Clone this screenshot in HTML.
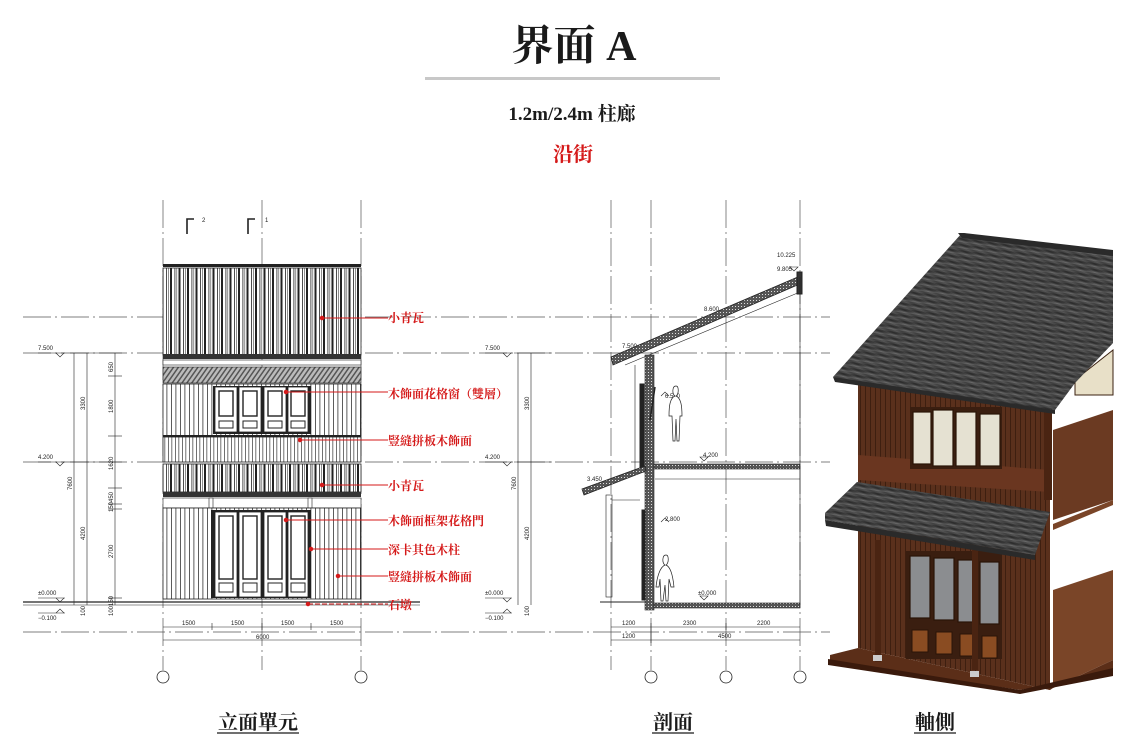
<!DOCTYPE html>
<html><head><meta charset="utf-8"><style>
html,body{margin:0;padding:0;background:#fff;}
svg{display:block;}
.t{font-family:"Liberation Serif","Noto Serif CJK SC",serif;}
.s{font-family:"Liberation Sans",sans-serif;font-size:6px;fill:#222;}
.r{font-family:"Liberation Serif","Noto Serif CJK SC",serif;font-size:12px;fill:#d51a1a;font-weight:bold;}
</style></head><body>
<svg width="1148" height="749" viewBox="0 0 1148 749" xmlns="http://www.w3.org/2000/svg">
<defs>
<pattern id="tile" width="8.5" height="10" patternUnits="userSpaceOnUse"><rect width="8.5" height="10" fill="#fff"/><rect x="0" width="2" height="10" fill="#222"/><rect x="4.5" width="0.8" height="10" fill="#222"/><rect x="6.5" width="0.6" height="10" fill="#444"/></pattern>
<pattern id="thin" width="4.5" height="10" patternUnits="userSpaceOnUse"><rect width="4.5" height="10" fill="#fff"/><rect width="0.8" height="10" fill="#333"/></pattern>
<pattern id="thin2" width="3.5" height="10" patternUnits="userSpaceOnUse"><rect width="3.5" height="10" fill="#fff"/><rect width="0.7" height="10" fill="#333"/></pattern>
<pattern id="hatch" width="4" height="4" patternUnits="userSpaceOnUse" patternTransform="rotate(35)"><rect width="4" height="4" fill="#bbb"/><rect width="1.5" height="4" fill="#555"/></pattern>
<pattern id="rtile" width="6" height="6" patternUnits="userSpaceOnUse" patternTransform="rotate(8)"><rect width="6" height="6" fill="#4a4a4a"/><rect y="0" width="6" height="2" fill="#2e2e2e"/><rect y="3" width="6" height="1" fill="#6a6a6a"/></pattern>
<pattern id="rtile2" width="5" height="6" patternUnits="userSpaceOnUse" patternTransform="rotate(-62)"><rect width="5" height="6" fill="#4a4a4a"/><rect width="1.6" height="6" fill="#2c2c2c"/><rect x="3" width="0.8" height="6" fill="#6e6e6e"/></pattern>
<pattern id="wood" width="5" height="10" patternUnits="userSpaceOnUse"><rect width="5" height="10" fill="#5a301c"/><rect width="1" height="10" fill="#3e1f10"/></pattern>
<pattern id="slab" width="3" height="3" patternUnits="userSpaceOnUse"><rect width="3" height="3" fill="#555"/><rect width="1" height="1" fill="#ddd"/></pattern>
</defs>

<!-- Title -->
<text x="574" y="60" text-anchor="middle" class="t" font-size="42" font-weight="bold" fill="#1a1a1a">界面 A</text>
<rect x="425" y="77" width="295" height="3" fill="#c8c8c8"/>
<text x="572" y="120" text-anchor="middle" class="t" font-size="19" font-weight="bold" fill="#1a1a1a">1.2m/2.4m 柱廊</text>
<text x="573" y="161" text-anchor="middle" class="t" font-size="20" font-weight="bold" fill="#d51a1a">沿街</text>

<!-- grid / dash-dot lines -->
<g stroke="#555" stroke-width="0.7" stroke-dasharray="28,4,2,4" fill="none">
<line x1="23" y1="317" x2="830" y2="317"/>
<line x1="23" y1="353" x2="830" y2="353"/>
<line x1="23" y1="462" x2="830" y2="462"/>
<line x1="23" y1="632" x2="830" y2="632"/>
<line x1="163" y1="200" x2="163" y2="670"/>
<line x1="262" y1="200" x2="262" y2="670"/>
<line x1="361" y1="200" x2="361" y2="670"/>
<line x1="611" y1="200" x2="611" y2="670"/>
<line x1="651" y1="200" x2="651" y2="670"/>
<line x1="726" y1="200" x2="726" y2="670"/>
<line x1="800" y1="200" x2="800" y2="670"/>
</g>
<g stroke="#222" stroke-width="0.8" fill="none">
<circle cx="163" cy="677" r="6"/><circle cx="361" cy="677" r="6"/>
<circle cx="651" cy="677" r="6"/><circle cx="726" cy="677" r="6"/><circle cx="800" cy="677" r="6"/>
<path d="M187,234 V219 H194 M248,234 V219 H255" stroke-width="1.6"/>
</g>
<text x="202" y="222" class="s" font-size="8">2</text><text x="265" y="222" class="s" font-size="8">1</text>

<!-- ELEVATION -->
<rect x="163" y="264" width="198" height="3" fill="#222"/>
<rect x="163" y="268" width="198" height="87" fill="url(#tile)" stroke="#222" stroke-width="0.8"/>
<rect x="163" y="354" width="198" height="5" fill="#333"/>
<rect x="163" y="360" width="198" height="5" fill="#fff" stroke="#222" stroke-width="0.6"/>
<rect x="163" y="367" width="198" height="16" fill="url(#hatch)" stroke="#222" stroke-width="0.6"/>
<rect x="163" y="384" width="198" height="52" fill="url(#thin)" stroke="#222" stroke-width="0.8"/>
<rect x="163" y="435" width="198" height="2" fill="#222"/>
<rect x="163" y="437" width="198" height="25" fill="url(#thin2)" stroke="#222" stroke-width="0.8"/>
<rect x="163" y="464" width="198" height="28" fill="url(#tile)" stroke="#222" stroke-width="0.8"/>
<rect x="163" y="492" width="198" height="5" fill="#333"/>
<rect x="163" y="498" width="198" height="10" fill="#fff" stroke="#222" stroke-width="0.6"/>
<rect x="209" y="498" width="4" height="10" fill="#fff" stroke="#222" stroke-width="0.6"/>
<rect x="308" y="498" width="4" height="10" fill="#fff" stroke="#222" stroke-width="0.6"/>
<rect x="163" y="508" width="198" height="91" fill="url(#thin)" stroke="#222" stroke-width="0.8"/>
<g fill="#fff" stroke="#222">
<rect x="213" y="386" width="98" height="48" fill="#222" stroke="none"/>
<rect x="215" y="387" width="22" height="45" stroke-width="0.8"/><rect x="239" y="387" width="22" height="45" stroke-width="0.8"/>
<rect x="264" y="387" width="22" height="45" stroke-width="0.8"/><rect x="288" y="387" width="20" height="45" stroke-width="0.8"/>
<rect x="219" y="391" width="14" height="25" stroke-width="1.4"/><rect x="243" y="391" width="14" height="25" stroke-width="1.4"/>
<rect x="268" y="391" width="14" height="25" stroke-width="1.4"/><rect x="291" y="391" width="14" height="25" stroke-width="1.4"/>
<rect x="219" y="421" width="14" height="7" stroke-width="1"/><rect x="243" y="421" width="14" height="7" stroke-width="1"/>
<rect x="268" y="421" width="14" height="7" stroke-width="1"/><rect x="291" y="421" width="14" height="7" stroke-width="1"/>
<rect x="211" y="510" width="100" height="88" fill="#222" stroke="none"/>
<rect x="215" y="512" width="22" height="85" stroke-width="0.8"/><rect x="239" y="512" width="22" height="85" stroke-width="0.8"/>
<rect x="264" y="512" width="22" height="85" stroke-width="0.8"/><rect x="288" y="512" width="20" height="85" stroke-width="0.8"/>
<rect x="219" y="516" width="14" height="63" stroke-width="1.4"/><rect x="243" y="516" width="14" height="63" stroke-width="1.4"/>
<rect x="268" y="516" width="14" height="63" stroke-width="1.4"/><rect x="291" y="516" width="14" height="63" stroke-width="1.4"/>
<rect x="219" y="583" width="14" height="9" stroke-width="1"/><rect x="243" y="583" width="14" height="9" stroke-width="1"/>
<rect x="268" y="583" width="14" height="9" stroke-width="1"/><rect x="291" y="583" width="14" height="9" stroke-width="1"/>
</g>
<line x1="23" y1="602" x2="420" y2="602" stroke="#222" stroke-width="1.2"/>
<line x1="23" y1="605" x2="420" y2="605" stroke="#222" stroke-width="0.6"/>

<!-- red leaders -->
<g stroke="#d51a1a" stroke-width="0.9" fill="#d51a1a">
<line x1="322" y1="318" x2="388" y2="318"/><circle cx="322" cy="318" r="1.8"/>
<line x1="286" y1="392" x2="388" y2="392"/><circle cx="286" cy="392" r="1.8"/>
<line x1="300" y1="440" x2="388" y2="440"/><circle cx="300" cy="440" r="1.8"/>
<line x1="322" y1="485" x2="388" y2="485"/><circle cx="322" cy="485" r="1.8"/>
<line x1="286" y1="520" x2="388" y2="520"/><circle cx="286" cy="520" r="1.8"/>
<line x1="311" y1="549" x2="388" y2="549"/><circle cx="311" cy="549" r="1.8"/>
<line x1="338" y1="576" x2="388" y2="576"/><circle cx="338" cy="576" r="1.8"/>
<line x1="308" y1="604" x2="388" y2="604" stroke-dasharray="5,2"/><circle cx="308" cy="604" r="1.8"/>
</g>
<text x="388" y="322" class="r">小青瓦</text>
<text x="388" y="398" class="r">木飾面花格窗（雙層）</text>
<text x="388" y="445" class="r">豎縫拼板木飾面</text>
<text x="388" y="490" class="r">小青瓦</text>
<text x="388" y="525" class="r">木飾面框架花格門</text>
<text x="388" y="554" class="r">深卡其色木柱</text>
<text x="388" y="581" class="r">豎縫拼板木飾面</text>
<text x="388" y="609" class="r">石墩</text>

<!-- elevation levels & dims -->
<g stroke="#222" stroke-width="0.6" fill="none">
<line x1="38" y1="353" x2="65" y2="353"/><path d="M56,353 l4,4 l4,-4"/>
<line x1="38" y1="462" x2="65" y2="462"/><path d="M56,462 l4,4 l4,-4"/>
<line x1="38" y1="598" x2="65" y2="598"/><path d="M56,598 l4,4 l4,-4"/>
<line x1="38" y1="613" x2="65" y2="613"/><path d="M56,613 l4,-4 l4,4"/>
<line x1="74" y1="353" x2="74" y2="605"/><line x1="87" y1="353" x2="87" y2="605"/><line x1="115" y1="353" x2="115" y2="605"/>
<line x1="70" y1="353" x2="122" y2="353"/><line x1="70" y1="462" x2="122" y2="462"/>
<line x1="108" y1="376" x2="122" y2="376"/><line x1="108" y1="436" x2="122" y2="436"/><line x1="108" y1="488" x2="122" y2="488"/>
<line x1="108" y1="504" x2="122" y2="504"/><line x1="108" y1="509" x2="122" y2="509"/><line x1="108" y1="598" x2="122" y2="598"/>
<line x1="163" y1="627" x2="361" y2="627"/><line x1="163" y1="640" x2="361" y2="640"/>
<line x1="212" y1="623" x2="212" y2="630"/><line x1="262" y1="623" x2="262" y2="630"/><line x1="311" y1="623" x2="311" y2="630"/>
<line x1="485" y1="353" x2="512" y2="353"/><path d="M503,353 l4,4 l4,-4"/>
<line x1="485" y1="462" x2="512" y2="462"/><path d="M503,462 l4,4 l4,-4"/>
<line x1="485" y1="598" x2="512" y2="598"/><path d="M503,598 l4,4 l4,-4"/>
<line x1="485" y1="613" x2="512" y2="613"/><path d="M503,613 l4,-4 l4,4"/>
<line x1="518" y1="353" x2="518" y2="605"/><line x1="531" y1="353" x2="531" y2="605"/>
<line x1="514" y1="353" x2="552" y2="353"/><line x1="514" y1="462" x2="552" y2="462"/>
<line x1="611" y1="627" x2="800" y2="627"/><line x1="611" y1="640" x2="800" y2="640"/>
<line x1="651" y1="623" x2="651" y2="643"/><line x1="726" y1="623" x2="726" y2="630"/>
</g>
<g class="s">
<text x="38" y="350">7.500</text><text x="38" y="459">4.200</text><text x="38" y="595">±0.000</text><text x="38" y="620">−0.100</text>
<text x="485" y="350">7.500</text><text x="485" y="459">4.200</text><text x="485" y="595">±0.000</text><text x="485" y="620">−0.100</text>
<text x="182" y="625">1500</text><text x="231" y="625">1500</text><text x="281" y="625">1500</text><text x="330" y="625">1500</text>
<text x="256" y="639">6000</text>
<text x="622" y="625">1200</text><text x="683" y="625">2300</text><text x="757" y="625">2200</text>
<text x="622" y="638">1200</text><text x="718" y="638">4500</text>
<text x="777" y="257">10.225</text><text x="777" y="271">9.805</text><text x="704" y="311">8.600</text>
<text x="622" y="348">7.500</text><text x="665" y="398">6.550</text><text x="703" y="457">4.200</text>
<text x="587" y="481">3.450</text><text x="665" y="521">2.800</text><text x="698" y="595">±0.000</text>
</g>
<g class="s" font-size="5.5">
<text transform="translate(72,490) rotate(-90)">7600</text><text transform="translate(85,410) rotate(-90)">3300</text>
<text transform="translate(85,540) rotate(-90)">4200</text><text transform="translate(113,372) rotate(-90)">650</text>
<text transform="translate(113,413) rotate(-90)">1800</text><text transform="translate(113,470) rotate(-90)">1620</text>
<text transform="translate(113,512) rotate(-90)">150450</text><text transform="translate(113,558) rotate(-90)">2700</text>
<text transform="translate(85,616) rotate(-90)">100</text><text transform="translate(113,616) rotate(-90)">100150</text>
<text transform="translate(516,490) rotate(-90)">7600</text><text transform="translate(529,410) rotate(-90)">3300</text>
<text transform="translate(529,540) rotate(-90)">4200</text><text transform="translate(529,616) rotate(-90)">100</text>
</g>

<!-- SECTION -->
<g stroke="#222" fill="none">
<path d="M611,357 L800,276 L802,283 L613,365 Z" fill="url(#slab)" stroke-width="0.8"/>
<path d="M625,365 L800,292" stroke-width="0.6"/>
<rect x="797" y="272" width="5" height="22" fill="#333"/>
<rect x="645" y="355" width="9" height="255" fill="url(#slab)" stroke-width="0.6"/>
<rect x="640" y="384" width="4" height="88" fill="#222"/>
<line x1="635" y1="365" x2="635" y2="470" stroke-width="0.6"/>
<path d="M655,387 L650,420" stroke-width="1.5"/>
<rect x="654" y="464" width="146" height="5" fill="url(#slab)" stroke-width="0.6"/>
<line x1="655" y1="479" x2="800" y2="479" stroke-width="0.6"/>
<path d="M582,489 L645,466 L646,471 L584,495 Z" fill="url(#slab)" stroke-width="0.8"/>
<rect x="606" y="495" width="6" height="102" stroke-width="0.6"/>
<line x1="612" y1="500" x2="640" y2="500" stroke-width="0.6"/>
<rect x="642" y="510" width="3" height="90" fill="#222"/>
<rect x="654" y="603" width="146" height="5" fill="url(#slab)" stroke-width="0.6"/>
<line x1="600" y1="602" x2="645" y2="602" stroke-width="1"/>
<line x1="800" y1="277" x2="800" y2="605" stroke-width="0.6"/>
<path d="M676,386 c-4,0 -4,8 -1,10 c-5,2 -6,10 -6,20 l3,0 l1,25 l2,0 l1,-22 l1,22 l2,0 l1,-25 l2,0 c0,-10 -1,-18 -6,-20 c3,-2 3,-10 0,-10 z" stroke-width="0.7" fill="#fff"/>
<path d="M666,555 c-4,0 -4,8 -1,10 c-5,2 -8,12 -9,22 l3,0 l1,-8 l1,22 l2,0 l2,-16 l1,16 l2,0 l1,-22 l2,8 l3,0 c-1,-10 -3,-20 -8,-22 c3,-2 3,-10 0,-10 z" stroke-width="0.7" fill="#fff"/>
<path d="M700,457 l4,4 l4,-4 z M700,596 l4,4 l4,-4 z M661,396 l4,-4 l4,4 M661,522 l4,-4 l4,4 M790,267 l4,4 l4,-4 z" stroke-width="0.6"/>
</g>

<!-- AXONOMETRIC -->
<polygon points="1050,425 1113,400 1113,660 1050,690" fill="#fff"/>
<polygon points="1053,430 1113,410 1113,500 1053,520" fill="#6b3a22"/>
<polygon points="1053,524 1113,500 1113,505 1053,530" fill="#7a4528"/>
<polygon points="1053,590 1113,570 1113,660 1053,688" fill="#7a4528"/>
<polygon points="1075,380 1113,350 1113,395 1075,395" fill="#e8e0c8" stroke="#3a2010" stroke-width="1"/>
<polygon points="858,383 1050,405 1050,690 858,648" fill="url(#wood)"/>
<polygon points="858,455 1050,470 1050,492 858,480" fill="#6a3620"/>
<polygon points="830,655 858,648 1050,690 1053,688 1113,660 1113,672 1020,690 830,662" fill="#5b2e18"/>
<polygon points="828,659 1020,690 1113,668 1113,676 1020,694 828,665" fill="#3a1a0c"/>
<rect x="910" y="407" width="92" height="62" fill="#3a1e10"/>
<g fill="#e5e1d2" stroke="#2a1408" stroke-width="1.2">
<rect x="913" y="412" width="18" height="52"/><rect x="933" y="410" width="20" height="56"/><rect x="956" y="412" width="20" height="54"/><rect x="980" y="414" width="20" height="52"/>
</g>
<rect x="906" y="551" width="96" height="108" fill="#3a1e10"/>
<g fill="#8b8d90" stroke="#2a1408" stroke-width="1.2">
<rect x="910" y="556" width="20" height="62"/><rect x="934" y="558" width="20" height="62"/><rect x="958" y="560" width="18" height="62"/><rect x="980" y="562" width="19" height="62"/>
</g>
<g fill="#8a4c22" stroke="#2a1408" stroke-width="1">
<rect x="912" y="630" width="16" height="22"/><rect x="936" y="632" width="16" height="22"/><rect x="960" y="634" width="14" height="22"/><rect x="982" y="636" width="15" height="22"/>
</g>
<rect x="875" y="540" width="6" height="122" fill="#4a2412"/><rect x="972" y="550" width="6" height="120" fill="#4a2412"/>
<rect x="873" y="655" width="9" height="6" fill="#ccc"/><rect x="970" y="671" width="9" height="6" fill="#ccc"/>
<rect x="1044" y="410" width="8" height="90" fill="#4a2412"/>
<polygon points="833,377 962,233 1113,252 1113,343 1075,383 1055,410 930,394 860,384" fill="url(#rtile)"/>
<polygon points="833,377 962,233 1113,252 1113,343 1075,383 1055,410 930,394 860,384" fill="url(#rtile2)" opacity="0.35"/>
<polygon points="958,233 964,233 1113,250 1113,256 962,238" fill="#2a2a2a"/>
<polygon points="833,377 1055,410 1055,414 835,382" fill="#2a2a2a"/>
<polygon points="857,482 1050,512 1035,555 825,520 825,513" fill="url(#rtile)"/>
<polygon points="857,482 1050,512 1035,555 825,520 825,513" fill="url(#rtile2)" opacity="0.3"/>
<polygon points="825,520 1035,555 1035,560 826,526" fill="#2a2a2a"/>

<!-- bottom labels -->
<g class="t" font-size="20" font-weight="bold" fill="#1a1a1a" text-anchor="middle">
<text x="258" y="729">立面單元</text><text x="673" y="729">剖面</text><text x="935" y="729">軸側</text>
</g>
<g stroke="#1a1a1a" stroke-width="1.2">
<line x1="217" y1="733" x2="299" y2="733"/><line x1="652" y1="733" x2="694" y2="733"/><line x1="914" y1="733" x2="956" y2="733"/>
</g>
</svg>
</body></html>
